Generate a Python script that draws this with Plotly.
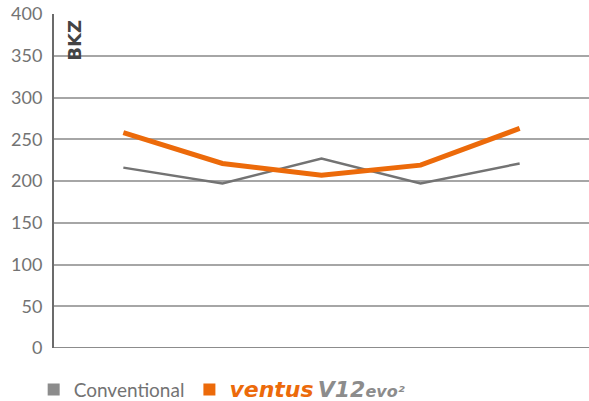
import plotly.graph_objects as go

categories = ["1", "2", "3", "4", "5"]
conventional = [216, 197, 227, 197, 221]
ventus = [258, 221, 207, 219, 263]
y_ticks = [0, 50, 100, 150, 200, 250, 300, 350, 400]

GREY = "#737373"
ORANGE = "#ec6a0a"

fig = go.Figure()

fig.add_trace(go.Scatter(
    x=categories, y=conventional, mode="lines",
    line=dict(color=GREY, width=2.5), showlegend=False,
))
fig.add_trace(go.Scatter(
    x=categories, y=ventus, mode="lines",
    line=dict(color=ORANGE, width=5), showlegend=False,
))

# legend entries with square markers
fig.add_trace(go.Scatter(
    x=[None], y=[None], mode="markers", name="Conventional",
    marker=dict(symbol="square", size=11, color="#8c8c8c"),
))
fig.add_trace(go.Scatter(
    x=[None], y=[None], mode="markers",
    name=("<b><i><span style='color:#ec6a0a;font-size:22px;font-family:DejaVu Sans'>ventus</span> "
          "<span style='color:#8c8c8c;font-size:22px;font-family:DejaVu Sans'>V12</span>"
          "<span style='color:#8c8c8c;font-size:16px;font-family:DejaVu Sans'>evo²</span></i></b>"),
    marker=dict(symbol="square", size=11, color=ORANGE),
))

fig.add_annotation(
    text="<b>BKZ</b>", textangle=-90, x=0.039, y=396, xref="paper", yref="y",
    xanchor="center", yanchor="top", showarrow=False,
    font=dict(size=18, color="#444444", family="DejaVu Sans"),
)

fig.update_layout(
    width=589, height=401,
    margin=dict(l=54, r=0, t=14, b=53, autoexpand=False),
    paper_bgcolor="white", plot_bgcolor="white",
    font=dict(family="Lato, Open Sans, sans-serif", color=GREY),
    legend=dict(
        orientation="h", x=-0.038, xanchor="left", y=-0.125, yanchor="middle",
        font=dict(size=19, color=GREY), itemsizing="constant",
        tracegroupgap=0, itemwidth=30,
    ),
    xaxis=dict(
        range=[-0.7, 4.7], showticklabels=False, showgrid=False,
        zeroline=False, showline=False, ticks="", automargin=False,
    ),
    yaxis=dict(
        range=[0, 400], tickvals=y_ticks, showgrid=True, gridcolor="#a6a6a6",
        gridwidth=1.5, zeroline=False, showline=True, linecolor="#6b6b6b",
        linewidth=2, ticks="", tickfont=dict(size=18, color=GREY),
        ticklabelstandoff=6, automargin=False,
    ),
)

fig.add_shape(type="line", xref="paper", yref="y", x0=0, x1=1, y0=0, y1=0,
              line=dict(color="#8c8c8c", width=2))

fig.write_html(
    "out.html",
    config={"displayModeBar": False},
    post_script="document.body.style.margin='0';document.body.style.overflow='hidden';",
)
